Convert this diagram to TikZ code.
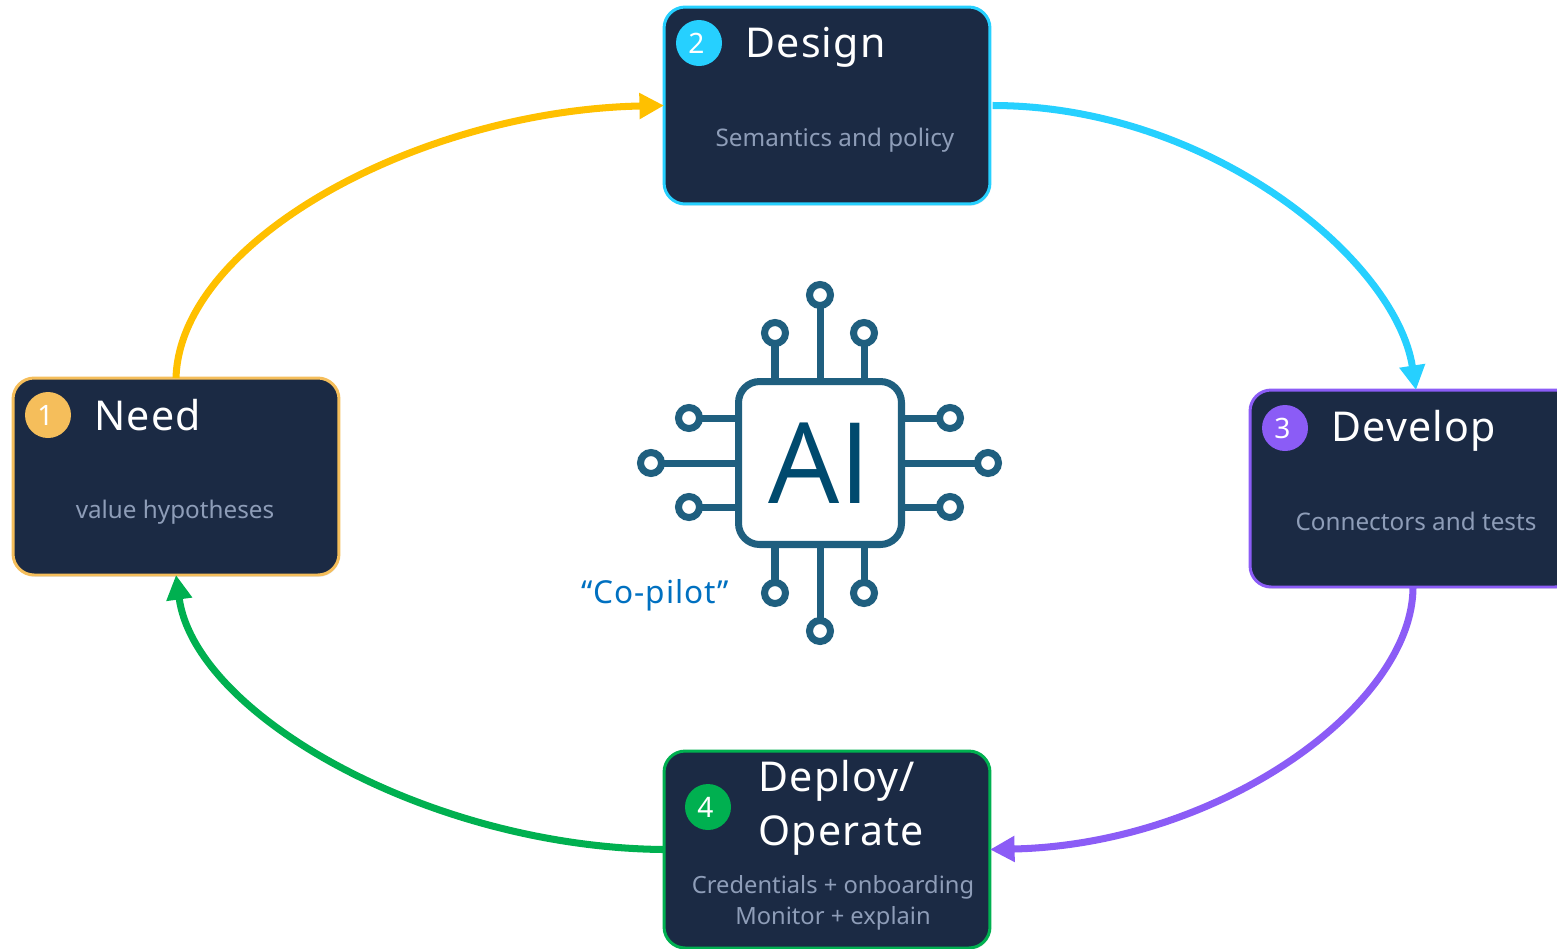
\documentclass[tikz,border=0pt]{standalone}
\usepackage{fontspec}
\setmainfont{Noto Sans}
\newfontfamily\titlefont[LetterSpace=3]{Noto Sans}
\newfontfamily\chipfont{Open Sans}
\usetikzlibrary{arrows.meta, shadows}
\definecolor{navy}{HTML}{1B2A44}
\definecolor{noteGray}{HTML}{8E9DB8}
\definecolor{needEdge}{HTML}{F5BE5B}
\definecolor{needArrow}{HTML}{FFC000}
\definecolor{designCyan}{HTML}{26D0FF}
\definecolor{developPurple}{HTML}{8B5CF6}
\definecolor{deployGreen}{HTML}{00B050}
\definecolor{chipBlue}{HTML}{1F5F7F}
\definecolor{chipText}{HTML}{004A6E}
\definecolor{copilotBlue}{HTML}{0070C0}
\newcommand{\badgenum}[1]{\raisebox{-1pt}{\kern-3pt #1}}

\begin{document}
\begin{tikzpicture}[x=.02cm, y=-.02cm,
  stage/.style={draw=#1, fill=navy, rectangle, rounded corners=12pt, line width=1.7pt, minimum width=6.52cm, minimum height=3.94cm, outer sep=0pt, drop shadow={opacity=.2, shadow xshift=.5pt, shadow yshift=-1pt}},
  badge/.style={fill=#1, circle, minimum size=.92cm, inner sep=0pt, text=white, font=\fontsize{16}{18}\selectfont},
  title/.style={text=white, inner sep=0pt, align=left, font=\titlefont\fontsize{23.4}{30.7}\selectfont},
  note/.style={text=noteGray, inner sep=0pt, align=center, font=\fontsize{13.8}{17.6}\selectfont},
  flow/.style={draw=#1, line width=4pt, -{Triangle[length=14pt, width=14pt]}},
  pin/.style={draw=chipBlue, fill=white, circle, line width=4pt, minimum size=.42cm, inner sep=0pt, outer sep=0pt},
  wire/.style={draw=chipBlue, line width=4pt}]
  \clip (0,0) rectangle (1557,948);

  \node[stage=needEdge] (need) at (176,476.5) {};
  \node[stage=designCyan] (design) at (827,105.5) {};
  \node[stage=developPurple] (develop) at (1413,488.5) {};
  \node[stage=deployGreen] (deploy) at (827,849.5) {};

  \node[badge=needEdge] (b1) at (48,415) {\badgenum{1}};
  \node[badge=designCyan] (b2) at (699,43) {\badgenum{2}};
  \node[badge=developPurple] (b3) at (1285,428) {\badgenum{3}};
  \node[badge=deployGreen] (b4) at (708,807) {\badgenum{4}};

  \node[title, anchor=base west] (t1) at (94,430) {Need};
  \node[title, anchor=base west] (t2) at (745,57) {Design};
  \node[title, anchor=base west] (t3) at (1331,441) {Develop};
  \node[title, anchor=west] (t4) at (758,808) {Deploy/\\Operate};

  \node[note, anchor=base] (n1) at (175,518) {value hypotheses};
  \node[note, anchor=base] (n2) at (835,146) {Semantics and policy};
  \node[note, anchor=base] (n3) at (1416,530) {Connectors and tests};
  \node[note, font=\fontsize{13.5}{17.6}\selectfont] (n4) at (833,903) {Credentials + onboarding\\Monitor + explain};

  \draw[flow=needArrow] (need.north) .. controls +(4,-138) and +(-244,5) .. (design.west);
  \draw[flow=designCyan, shorten <=1.5pt] (design.east) .. controls +(220,0) and +(-20,-130) .. ([xshift=1.7pt]develop.north);
  \draw[flow=developPurple] (develop.south) .. controls +(0,118) and +(230,-5) .. (deploy.east);
  \draw[flow=deployGreen] (deploy.west) .. controls +(-234,-2) and +(19,140) .. (need.south);

  \node[draw=chipBlue, line width=4pt, rectangle, rounded corners=12pt, minimum width=3.26cm, minimum height=3.26cm, inner sep=0pt, text=chipText, font=\chipfont\fontsize{64}{64}\selectfont] (chip) at (820,463) {AI};

  \foreach \name/\x/\y/\side in {p1/820/295/north, p2/775/333/north, p3/864/333/north, p4/820/631/south, p5/775/593/south, p6/864/593/south} {
    \node[pin] (\name) at (\x,\y) {};
    \draw[wire] (\name) -- (\name |- chip.\side);
  }
  \foreach \name/\x/\y/\side in {p7/651/463/west, p8/689/418/west, p9/689/507/west, p10/988/463/east, p11/950/418/east, p12/950/507/east} {
    \node[pin] (\name) at (\x,\y) {};
    \draw[wire] (\name) -- (\name -| chip.\side);
  }

  \node[text=copilotBlue, inner sep=0pt, font=\titlefont\fontsize{18}{20}\selectfont] (copilot) at (655,595) {“Co-pilot”};
\end{tikzpicture}
\end{document}
